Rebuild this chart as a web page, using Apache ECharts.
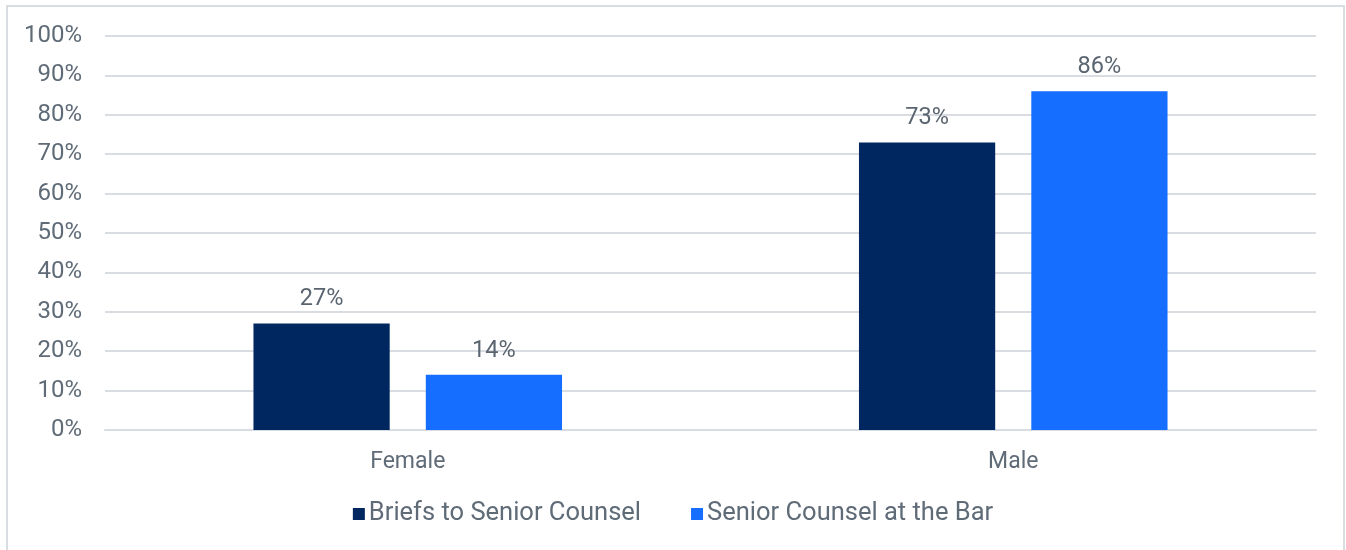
<!DOCTYPE html>
<html>
<head>
<meta charset="utf-8">
<script src="https://cdn.jsdelivr.net/npm/echarts@6/dist/echarts.min.js"></script>
<style>
  html, body { margin: 0; padding: 0; background: #ffffff; }
  #chart { width: 1346px; height: 550px; }
</style>
</head>
<body>
<div id="chart"></div>
<script>
// Share of briefs vs. share of senior counsel, by gender
const categories = ['Female', 'Male'];
const briefsToSeniorCounsel = [27, 73];
const seniorCounselAtBar = [14, 86];
const seriesNames = ['Briefs to Senior Counsel', 'Senior Counsel at the Bar'];

const textColor = '#5f6b77';
const fontFamily = 'Roboto, "Open Sans", sans-serif';

const chart = echarts.init(document.getElementById('chart'), null, { renderer: 'canvas' });

const labelStyle = {
  show: true,
  position: 'top',
  distance: 12,
  formatter: '{c}%',
  color: '#5b6570',
  fontSize: 23.5,
  fontFamily: fontFamily
};

chart.setOption({
  animation: false,
  backgroundColor: '#ffffff',
  graphic: [{
    type: 'rect',
    shape: { x: 7, y: 6, width: 1337, height: 580 },
    style: { fill: 'none', stroke: '#d9dde1', lineWidth: 2 },
    silent: true
  }],
  grid: { left: 105, right: 30, top: 36, bottom: 120, containLabel: false },
  legend: {
    bottom: 18,
    left: 'center',
    itemWidth: 12,
    itemHeight: 12,
    itemGap: 50,
    icon: 'rect',
    textStyle: { color: textColor, fontSize: 25.5, fontFamily: fontFamily, padding: [0, 0, 0, -1] },
    data: seriesNames
  },
  xAxis: {
    type: 'category',
    data: categories,
    axisLine: { show: true, lineStyle: { color: '#d9dde1', width: 2 } },
    axisTick: { show: false },
    axisLabel: { color: textColor, fontSize: 23, fontFamily: fontFamily, margin: 21 }
  },
  yAxis: {
    type: 'value',
    min: 0,
    max: 100,
    interval: 10,
    axisLine: { show: false },
    axisTick: { show: false },
    axisLabel: { formatter: '{value}%', color: textColor, fontSize: 24, fontFamily: fontFamily, margin: 23, padding: [3, 0, 0, 0] },
    splitLine: { lineStyle: { color: '#d9dde1', width: 2 } }
  },
  series: [
    {
      name: seriesNames[0],
      type: 'bar',
      data: briefsToSeniorCounsel,
      barWidth: '22.5%',
      barGap: '26.5%',
      itemStyle: { color: '#00275f' },
      label: labelStyle
    },
    {
      name: seriesNames[1],
      type: 'bar',
      data: seniorCounselAtBar,
      barWidth: '22.5%',
      itemStyle: { color: '#156eff' },
      label: labelStyle
    }
  ]
});
</script>
</body>
</html>
